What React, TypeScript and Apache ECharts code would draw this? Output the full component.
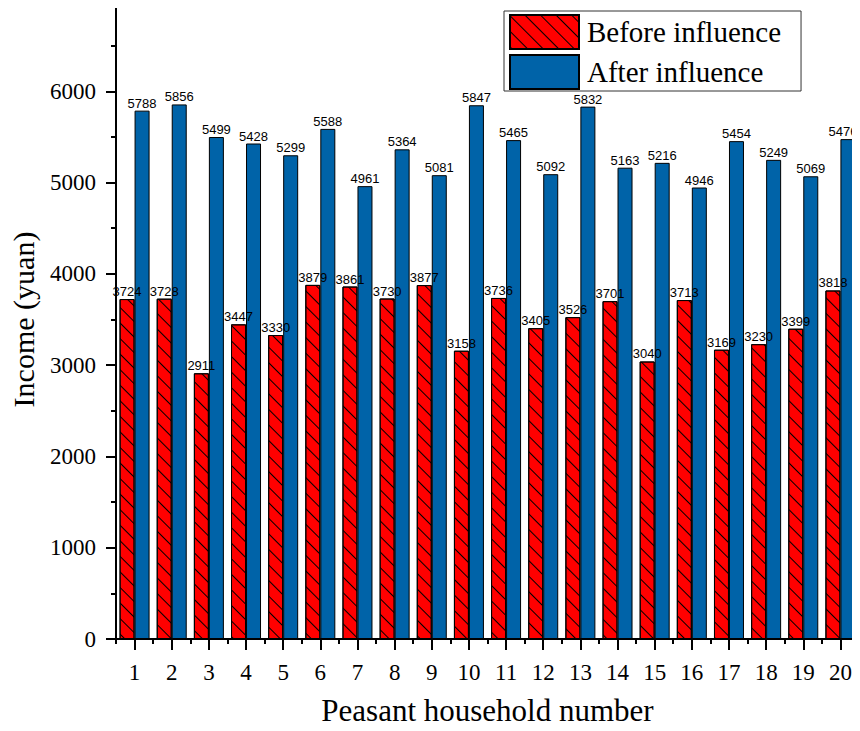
import React, { useEffect, useRef } from "react";
import * as echarts from "echarts";

const categories = ["1","2","3","4","5","6","7","8","9","10","11","12","13","14","15","16","17","18","19","20"];
const beforeValues = [3724, 3728, 2911, 3447, 3330, 3879, 3861, 3730, 3877, 3158, 3736, 3405, 3526, 3701, 3040, 3713, 3169, 3230, 3399, 3818];
const afterValues = [5788, 5856, 5499, 5428, 5299, 5588, 4961, 5364, 5081, 5847, 5465, 5092, 5832, 5163, 5216, 4946, 5454, 5249, 5069, 5476];
const seriesNames = ["Before influence", "After influence"];

const serif = "Liberation Serif";

export default function App() {
  const ref = useRef<HTMLDivElement>(null);
  useEffect(() => {
    if (!ref.current) return;
    const chart = echarts.init(ref.current, undefined, { renderer: "svg" });
    const label = {
      show: true,
      position: "top",
      distance: 1,
      fontSize: 13,
      fontFamily: "Liberation Sans",
      color: "#000",
    };
    chart.setOption({
      animation: false,
      backgroundColor: "#fff",
      grid: { left: 116, right: 1, top: 0, bottom: 86, containLabel: false },
      legend: {
        orient: "vertical",
        left: 504,
        top: 11,
        padding: [3, 20, 1, 5],
        itemGap: 4,
        itemWidth: 69,
        itemHeight: 34,
        icon: "rect",
        borderColor: "#333",
        borderWidth: 1,
        backgroundColor: "#fff",
        textStyle: { fontSize: 29, fontFamily: serif, color: "#000", padding: [0, 0, 0, 3] },
        data: seriesNames,
      },
      xAxis: [
        {
          type: "category",
          data: categories,
          name: "Peasant household number",
          nameLocation: "middle",
          nameGap: 56,
          nameTextStyle: { fontSize: 31, fontFamily: serif, color: "#000" },
          axisLine: { show: true, lineStyle: { color: "#000", width: 2 } },
          axisTick: { show: true, alignWithLabel: true, length: 11, lineStyle: { color: "#000", width: 2 } },
          axisLabel: { fontSize: 23, fontFamily: serif, color: "#000", margin: 22 },
          splitLine: { show: false },
        },
        {
          type: "category",
          data: categories,
          position: "bottom",
          axisLine: { show: false },
          axisTick: { show: true, length: 5, lineStyle: { color: "#000", width: 2 } },
          axisLabel: { show: false },
          splitLine: { show: false },
        },
      ],
      yAxis: {
        type: "value",
        min: 0,
        max: 7000,
        interval: 1000,
        name: "Income (yuan)",
        nameLocation: "middle",
        nameGap: 78,
        nameTextStyle: { fontSize: 30, fontFamily: serif, color: "#000" },
        axisLine: { show: true, lineStyle: { color: "#000", width: 2 } },
        axisTick: { show: true, length: 10, lineStyle: { color: "#000", width: 2 } },
        minorTick: { show: true, splitNumber: 2, length: 5, lineStyle: { color: "#000", width: 2 } },
        axisLabel: {
          fontSize: 23,
          fontFamily: serif,
          color: "#000",
          margin: 20,
          showMaxLabel: false,
          formatter: (v: number) => String(v),
        },
        splitLine: { show: false },
        minorSplitLine: { show: false },
      },
      series: [
        {
          name: seriesNames[0],
          type: "bar",
          data: beforeValues,
          barWidth: 15,
          barGap: "0%",
          itemStyle: {
            color: "#ff0000",
            borderColor: "#000",
            borderWidth: 1,
            decal: {
              color: "#000",
              backgroundColor: "rgba(0,0,0,0)",
              symbol: "rect",
              symbolSize: 1,
              dashArrayX: [1, 0],
              dashArrayY: [1, 10],
              rotation: Math.PI / 4,
            },
          },
          label,
        },
        {
          name: seriesNames[1],
          type: "bar",
          data: afterValues,
          barWidth: 15,
          barGap: "0%",
          itemStyle: { color: "#0063a8", borderColor: "#000", borderWidth: 1 },
          label,
          labelLayout: (p: any) =>
            p.dataIndex === afterValues.length - 1 ? { dx: -5 } : {},
        },
      ],
    });
    return () => chart.dispose();
  }, []);
  return <div ref={ref} style={{ width: 860, height: 731, margin: -8 }} />;
}
